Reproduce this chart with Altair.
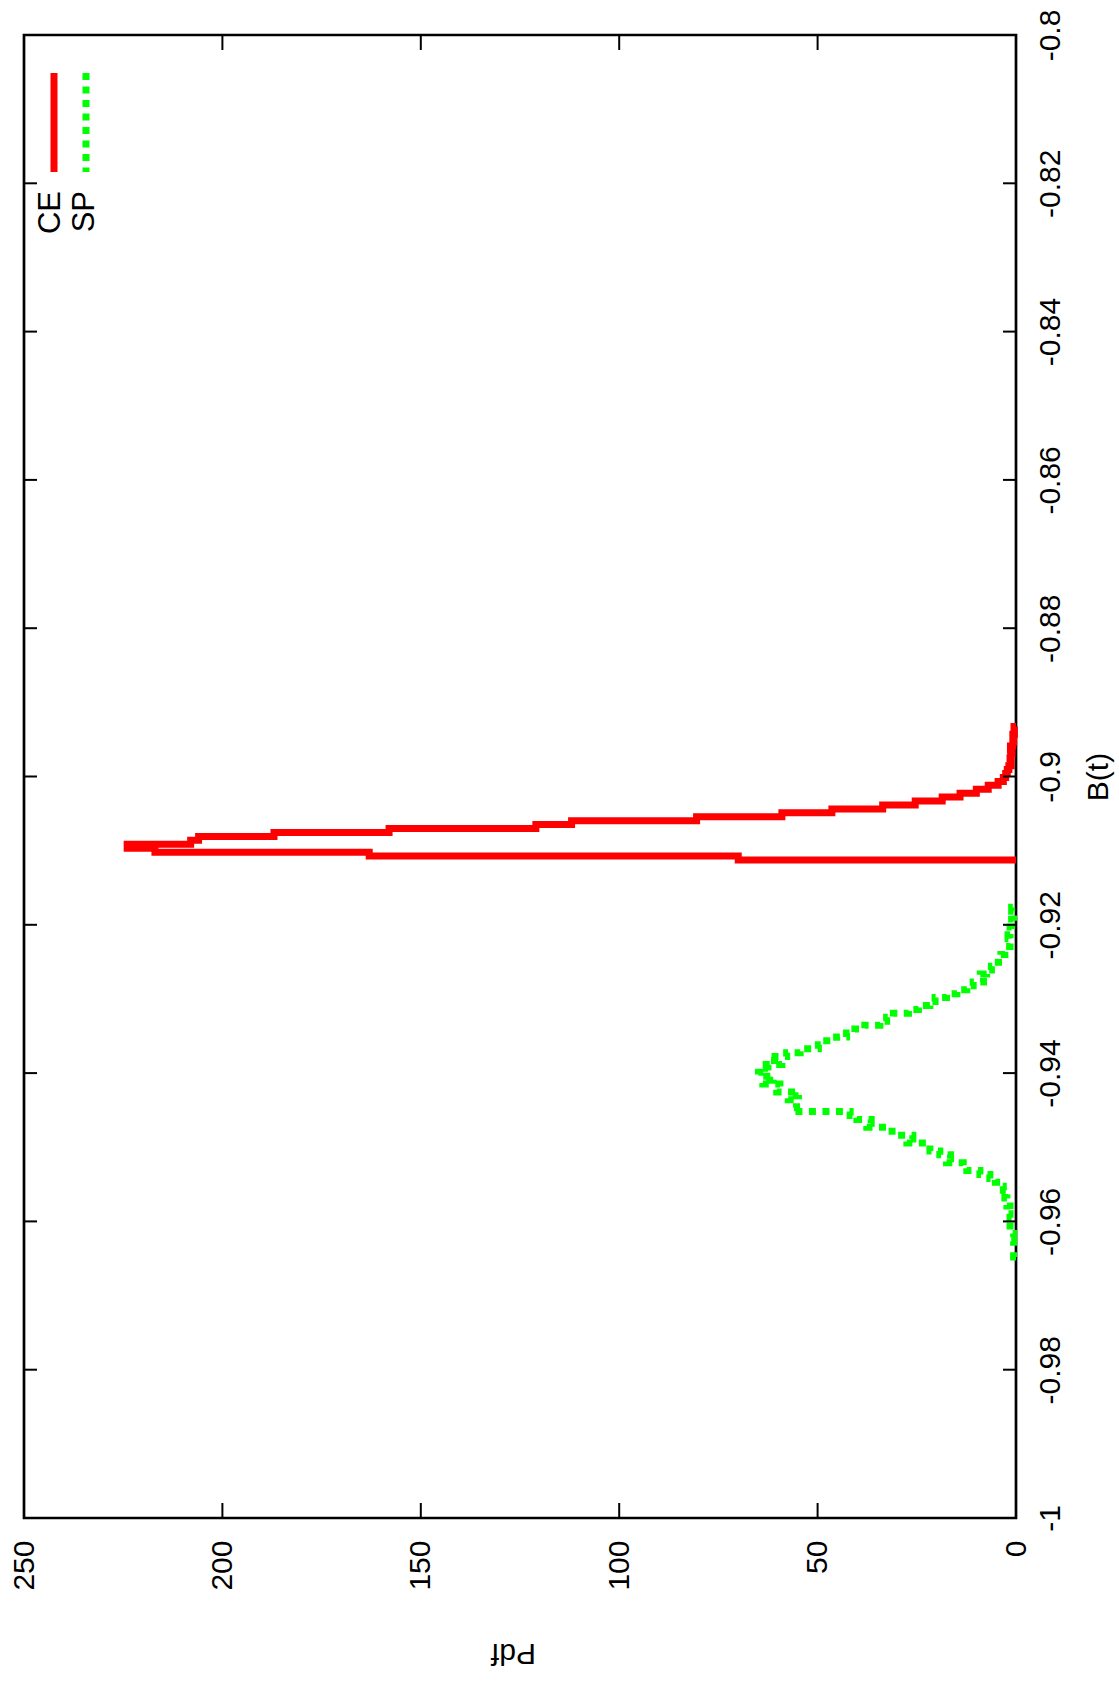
import altair as alt
import pandas as pd

# ---------------- data ----------------
# CE histogram (red): bin edges in B(t) and bin heights (Pdf)
ce_edges = [-0.91126, -0.91073, -0.91020, -0.90967, -0.90914, -0.90861, -0.90808,
            -0.90755, -0.90702, -0.90649, -0.90596, -0.90543, -0.90490, -0.90437,
            -0.90384, -0.90331, -0.90278, -0.90225, -0.90172, -0.90119, -0.90066,
            -0.90013, -0.89960, -0.89907, -0.89854, -0.89801, -0.89748, -0.89695,
            -0.89642, -0.89589, -0.89536, -0.89483, -0.89430, -0.89377, -0.89324]
ce_values = [70, 163, 217, 224, 208, 206, 187, 158, 121, 112, 80.5, 59, 46.4, 33.6,
             25.4, 18.6, 14.1, 10, 7, 4.5, 3.2, 2.6, 2.2, 1.8, 1.2, 1.5, 1.3, 1.0,
             1.4, 0.8, 0.6, 0.8, 0.4, 0.5]

# SP histogram (green)
sp_edges = [-0.96480, -0.96427, -0.96374, -0.96321, -0.96268, -0.96215, -0.96162,
            -0.96109, -0.96056, -0.96003, -0.95950, -0.95897, -0.95844, -0.95791,
            -0.95738, -0.95685, -0.95632, -0.95579, -0.95526, -0.95473, -0.95420,
            -0.95367, -0.95314, -0.95261, -0.95208, -0.95155, -0.95102, -0.95049,
            -0.94996, -0.94943, -0.94890, -0.94837, -0.94784, -0.94731, -0.94678,
            -0.94625, -0.94572, -0.94519, -0.94466, -0.94413, -0.94360, -0.94307,
            -0.94254, -0.94201, -0.94148, -0.94095, -0.94042, -0.93989, -0.93936,
            -0.93883, -0.93830, -0.93777, -0.93724, -0.93671, -0.93618, -0.93565,
            -0.93512, -0.93459, -0.93406, -0.93353, -0.93300, -0.93247, -0.93194,
            -0.93141, -0.93088, -0.93035, -0.92982, -0.92929, -0.92876, -0.92823,
            -0.92770, -0.92717, -0.92664, -0.92611, -0.92558, -0.92505, -0.92452,
            -0.92399, -0.92346, -0.92293, -0.92240, -0.92187, -0.92134, -0.92081,
            -0.92028, -0.91975, -0.91922, -0.91869, -0.91816, -0.91763]
sp_values = [0.6, 0.6, 0.6, 0.6, 1.5, 0.6, 1.5, 1.5, 1.5, 1.1, 1.5, 1.9, 1.5, 2.3,
             2.3, 2.8, 2.3, 3.2, 3.6, 5.2, 6.6, 9.1, 12.4, 13.3, 17.5, 16.5, 19.2,
             21.7, 21.7, 27.5, 26.0, 30.1, 32.2, 37.6, 36.5, 40.1, 41.8, 56.1, 55.3,
             55.3, 57.4, 54.8, 60.3, 59.5, 63.8, 61.2, 64.9, 62.5, 64.1, 59.0, 62.0,
             57.8, 54.4, 49.8, 47.7, 45.2, 42.7, 40.6, 38.1, 34.3, 32.6, 30.9, 27.1,
             24.6, 21.7, 20.4, 17.5, 14.9, 12.4, 10.8, 8.2, 9.0, 7.4, 6.2, 5.7, 4.4,
             3.8, 2.8, 2.8, 1.5, 1.5, 2.0, 1.5, 1.1, 1.5, 0.6, 1.1, 0.6, 1.1]

b_ticks = [-1.0, -0.98, -0.96, -0.94, -0.92, -0.90, -0.88, -0.86, -0.84, -0.82, -0.80]
pdf_ticks = [0, 50, 100, 150, 200, 250]

# ---------------- layout ----------------
W, H = 992, 1483
FONT = "Liberation Sans"
LW = 7


def step_table(edges, values):
    rows = [{"pdf": 0.0, "b": edges[0]}]
    for i, v in enumerate(values):
        rows.append({"pdf": v, "b": edges[i]})
        rows.append({"pdf": v, "b": edges[i + 1]})
    rows.append({"pdf": 0.0, "b": edges[-1]})
    for k, r in enumerate(rows):
        r["idx"] = k
    return pd.DataFrame(rows)


ce_df = step_table(ce_edges, ce_values)
sp_df = step_table(sp_edges, sp_values)

xscale = alt.Scale(domain=[0, 250], reverse=True, nice=False, zero=True)
yscale = alt.Scale(domain=[-1, -0.8], nice=False, zero=False)

x_axis = alt.Axis(
    orient="bottom", values=pdf_ticks, format="d",
    labelAngle=270, labelAlign="right", labelBaseline="middle", labelPadding=22,
    ticks=False, tickSize=0, domain=False, grid=False,
    labelFontSize=30, labelFont=FONT, labelColor="black", labelOverlap=False, labelFlush=False,
    title="Pdf", titleFont=FONT, titleFontSize=30, titleFontWeight="normal", titleColor="black",
    titleAngle=180, titleAlign="center", titleBaseline="alphabetic", titleX=489, titleY=125,
)
y_axis = alt.Axis(
    orient="right", values=b_ticks,
    labelExpr="datum.value < 0 ? '-' + format(abs(datum.value), '.2~f') : format(datum.value, '.2~f')",
    labelAngle=270, labelAlign="center", labelBaseline="top", labelPadding=19,
    ticks=False, tickSize=0, domain=False, grid=False,
    labelFontSize=30, labelFont=FONT, labelColor="black", labelOverlap=False, labelFlush=False,
    title="B(t)", titleFont=FONT, titleFontSize=30, titleFontWeight="normal", titleColor="black",
    titleAngle=270, titleAlign="center", titleBaseline="top", titleX=67, titleY=H / 2,
)

X = alt.X("pdf:Q", scale=xscale, axis=x_axis)
Y = alt.Y("b:Q", scale=yscale, axis=y_axis)

ce_line = alt.Chart(ce_df).mark_line(
    color="#ff0000", strokeWidth=LW, strokeCap="butt", strokeJoin="miter"
).encode(x=X, y=Y, order=alt.Order("idx:Q"))

sp_line = alt.Chart(sp_df).mark_line(
    color="#00ff00", strokeWidth=LW, strokeCap="butt", strokeJoin="miter", strokeDash=[7, 6.5]
).encode(x=X, y=Y, order=alt.Order("idx:Q"))

bt = pd.DataFrame({"b": b_ticks})
pt = pd.DataFrame({"pdf": pdf_ticks})
tick_style = dict(color="black", strokeWidth=2)

b_tick_r = alt.Chart(bt).mark_rule(**tick_style).encode(
    y=Y, x=alt.value(W - 13), x2=alt.value(W))
b_tick_l = alt.Chart(bt).mark_rule(**tick_style).encode(
    y=Y, x=alt.value(0), x2=alt.value(13))
p_tick_b = alt.Chart(pt).mark_rule(**tick_style).encode(
    x=X, y=alt.value(H - 15), y2=alt.value(H))
p_tick_t = alt.Chart(pt).mark_rule(**tick_style).encode(
    x=X, y=alt.value(0), y2=alt.value(15))

one = pd.DataFrame({"a": [0]})
leg_ce_line = alt.Chart(one).mark_rule(color="#ff0000", strokeWidth=LW, strokeCap="butt").encode(
    x=alt.value(30), y=alt.value(38), y2=alt.value(137))
leg_sp_line = alt.Chart(one).mark_rule(color="#00ff00", strokeWidth=LW, strokeCap="butt",
                                       strokeDash=[7, 6.5]).encode(
    x=alt.value(62), y=alt.value(38), y2=alt.value(137))
leg_ce_text = alt.Chart(one).mark_text(text="CE", angle=270, align="right", baseline="middle",
                                       fontSize=31, font=FONT, color="black").encode(
    x=alt.value(27), y=alt.value(156))
leg_sp_text = alt.Chart(one).mark_text(text="SP", angle=270, align="right", baseline="middle",
                                       fontSize=31, font=FONT, color="black").encode(
    x=alt.value(61), y=alt.value(156))

chart = alt.layer(
    sp_line, ce_line,
    b_tick_r, b_tick_l, p_tick_b, p_tick_t,
    leg_ce_line, leg_sp_line, leg_ce_text, leg_sp_text,
).properties(
    width=W, height=H,
    padding={"left": 24, "top": 35, "right": 1119 - 24 - W, "bottom": 1684 - 35 - H},
    autosize=alt.AutoSizeParams(type="none"),
    background="white",
).configure_view(stroke="black", strokeWidth=2.7)

chart.save("out.html", embed_options={"renderer": "svg", "actions": False})
